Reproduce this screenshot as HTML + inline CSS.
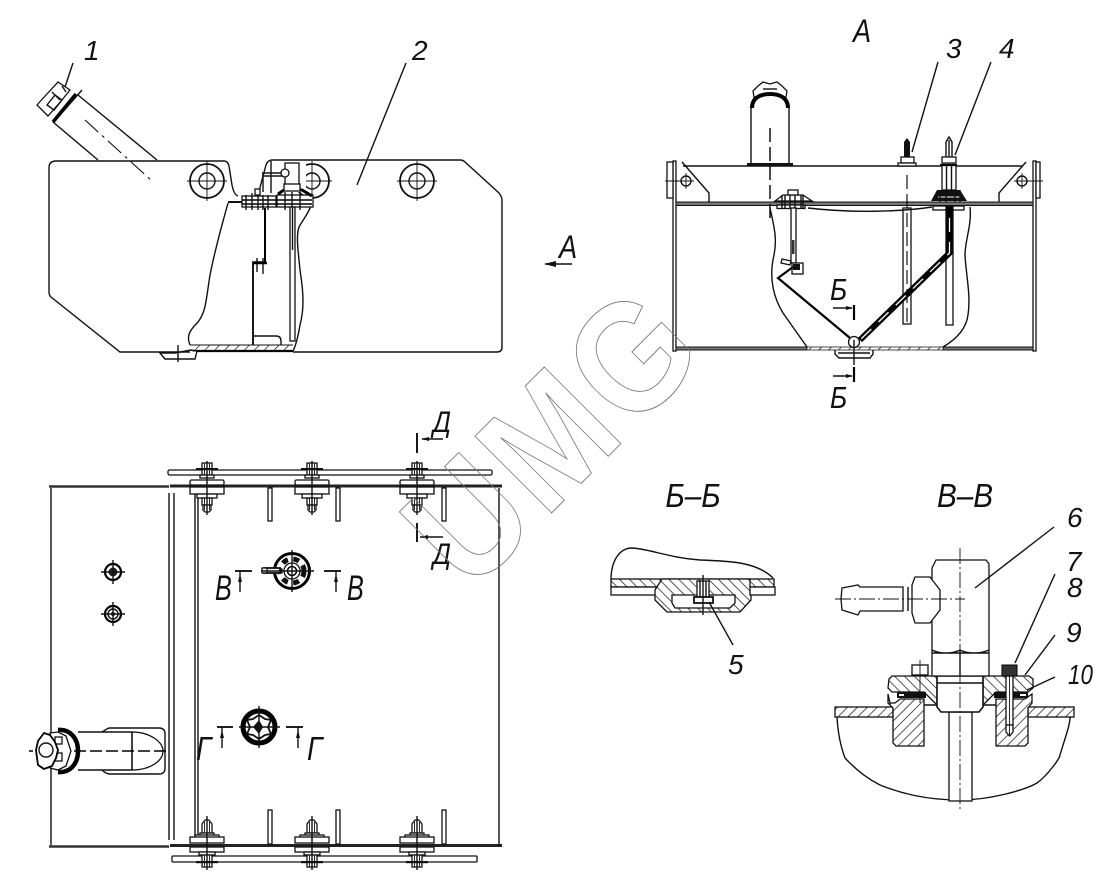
<!DOCTYPE html>
<html><head><meta charset="utf-8"><style>
html,body{margin:0;padding:0;background:#fff}
svg{display:block}
text{font-family:"Liberation Sans",sans-serif;font-style:italic;fill:#111;font-size:28px}
.l{fill:none;stroke:#111;stroke-width:1.4}
.t{fill:none;stroke:#111;stroke-width:.9}
.k{fill:none;stroke:#000;stroke-width:2.2}
.c{fill:none;stroke:#111;stroke-width:.9;stroke-dasharray:16 3 2 3}
.d{fill:none;stroke:#000;stroke-width:1.4;stroke-dasharray:14 5}
.b{fill:#111;stroke:none}
.w{fill:#fff;stroke:#111;stroke-width:1.3}
.h{fill:url(#hatch);stroke:#111;stroke-width:1.3}
.h2{fill:url(#hatch2);stroke:#111;stroke-width:1.3}
</style></head><body>
<svg width="1119" height="890" viewBox="0 0 1119 890" xmlns="http://www.w3.org/2000/svg">
<defs>
<pattern id="hatch" width="7" height="7" patternUnits="userSpaceOnUse" patternTransform="rotate(45)"><rect width="7" height="7" fill="#fff"/><line x1="0" y1="0" x2="0" y2="7" stroke="#111" stroke-width="1.4"/></pattern>
<pattern id="hatch2" width="7" height="7" patternUnits="userSpaceOnUse" patternTransform="rotate(-45)"><rect width="7" height="7" fill="#fff"/><line x1="0" y1="0" x2="0" y2="7" stroke="#111" stroke-width="1.4"/></pattern>
<g id="boltT">
<rect class="w" x="-5" y="-23" width="10" height="6"/>
<rect class="w" x="-5" y="-17" width="10" height="6"/>
<rect class="w" x="-7" y="-11" width="14" height="3"/>
<rect class="b" x="-11" y="-18" width="22" height="2.200"/>
<rect class="w" x="-17" y="-6" width="34" height="5" rx="1.500"/>
<rect class="w" x="-17" y="1" width="34" height="7"/>
<rect class="w" x="-10" y="8" width="20" height="4"/>
<rect class="w" x="-5" y="12" width="10" height="7"/>
<path class="w" d="M-4 19h8v5l-2 2h-4l-2-2z"/>
<path class="t" d="M-2.500 -23V-11M2.500 -23V-11M-2.500 12V24M2.500 12V24"/>
<line class="l" x1="0" y1="-25" x2="0" y2="29"/>
</g>
<g id="boltB">
<path class="w" d="M-5 -13v-9l3-4h4l3 4v9z"/>
<rect class="w" x="-7" y="-13" width="14" height="3"/>
<rect class="w" x="-12" y="-11" width="24" height="3"/>
<rect class="w" x="-17" y="-9" width="34" height="6"/>
<rect class="w" x="-17" y="1" width="34" height="5"/>
<rect class="w" x="-8" y="6" width="16" height="3"/>
<rect class="w" x="-5" y="9" width="10" height="12"/>
<rect class="b" x="-11" y="15" width="22" height="2.200"/>
<path class="t" d="M-2.500 -24V-13M2.500 -24V-13M-2.500 9V21M2.500 9V21"/>
<line class="l" x1="0" y1="-30" x2="0" y2="24"/>
</g>
<g id="tcirc">
<circle class="l" cx="0" cy="0" r="17" style="stroke-width:1.8"/>
<circle class="l" cx="0" cy="0" r="8"/>
<path class="t" d="M-20 0H20M0-20V20"/>
</g>
</defs>
<rect width="1119" height="890" fill="#fff"/>

<!-- ===== Side view ===== -->
<path class="l" d="M228 203C222 225 216 245 210 275C206 300 206 312 198 322C190 330 186 336 190 345M190 352H120L51 297Q49 295 49 292V168Q49 161 56 161H224Q228 161 229 166L232 185Q234 195 238 196"/>
<path class="l" d="M312 203C309 213 304 218 299 227C296 236 298 250 300 270C304 295 304 310 300 325C298 337 296 345 293 351M293 352H497Q502 352 502 347V200Q502 197 499 193L465 162Q463 160 460 160H272Q268 160 266 165L258 195"/>
<use href="#tcirc" x="207" y="181"/>
<use href="#tcirc" x="312" y="181"/>
<use href="#tcirc" x="417" y="181"/>
<rect x="296" y="164" width="10" height="28" fill="#fff"/>
<path class="l" d="M157 160 78 95M98 160 53 122"/>
<path class="k" d="M53 122 76 94" style="stroke-width:3.600"/>
<path class="l" d="M60 115 82 90"/>
<path class="w" d="M37 105 46 95 58 82 70 90 62 100 48 116Z"/>
<path class="l" d="M47 105 55 95 62 100 54 110ZM52 92 60 100M62 86 66 92"/>
<path class="d" d="M85 120 152 181" style="stroke-width:1;stroke-dasharray:18 5 3 5"/>
<line class="l" x1="73" y1="63" x2="65" y2="87"/>
<line class="l" x1="406" y1="63" x2="357" y2="185"/>
<text x="84" y="60">1</text><text x="412" y="60">2</text>
<!-- internals -->
<rect class="b" x="228" y="201" width="16" height="2"/>
<rect class="w" x="242" y="196" width="34" height="11"/>
<rect class="w" x="277" y="195" width="36" height="12"/>
<path class="k" d="M242 200H312M242 204H312" style="stroke-width:1.600"/>
<path d="M246 195V210M252 193V210M258 195V210M263 195V210M268 195V210M285 192V210M292 192V210M300 192V210" class="l"/>
<rect class="w" x="255" y="189" width="5" height="6"/>
<path class="k" d="M278 194 284 190H302L312 196" style="stroke-width:3"/>
<rect class="w" x="285" y="163" width="14" height="24"/>
<rect class="w" x="284" y="184" width="16" height="7"/>
<path class="l" d="M263 173V192M271 161V193M262 173H285M262 176H285"/>
<circle class="w" cx="285" cy="173" r="4"/>
<path class="k" d="M265 208V262" style="stroke-width:2"/>
<path class="k" d="M253 263V345" style="stroke-width:1.800"/>
<path class="l" d="M252 262H265M257 258V272M263 258V274"/>
<path class="k" d="M253 263H267" style="stroke-width:2.500"/>
<path class="l" d="M253 336H276Q281 336 281 341V345"/>
<rect class="w" x="290" y="207" width="5" height="134"/>
<line class="l" x1="292.500" y1="207" x2="292.500" y2="250"/>
<rect x="190" y="345" width="103" height="7" fill="url(#hatch)" stroke="none"/>
<path class="k" d="M196 351H293"/>
<path class="t" d="M190 345H293"/>
<path class="l" d="M160 353 165 359H195L197 351 191 350 175 353Z"/>
<line class="l" x1="178" y1="345" x2="178" y2="362"/>

<!-- ===== View A ===== -->
<text transform="translate(853 42) scale(.85 1)" style="font-size:32px">А</text>
<line class="l" x1="938" y1="62" x2="912" y2="152"/>
<line class="l" x1="991" y1="62" x2="955" y2="155"/>
<text x="946" y="58">3</text><text x="999" y="58">4</text>
<path class="l" d="M683 166H1022"/>
<rect class="w" x="673" y="161" width="3" height="190"/>
<rect class="w" x="1033" y="161" width="3" height="190"/>
<rect x="676" y="202" width="357" height="3.500" fill="#777" stroke="#111" stroke-width="1"/>
<rect x="676" y="347" width="131" height="3" fill="#777" stroke="#111" stroke-width="1"/>
<rect x="943" y="347" width="90" height="3" fill="#777" stroke="#111" stroke-width="1"/>
<path class="l" d="M682 162 709 193V202M1026 162 999 193V202"/>
<rect class="w" x="667" y="162" width="6" height="36"/>
<rect class="w" x="1036" y="162" width="4" height="36"/>
<circle class="l" cx="686" cy="181" r="5"/><circle class="l" cx="1022" cy="181" r="5"/>
<path class="t" d="M665 181H694M686 173V189M1014 181H1043M1022 173V189"/>
<path class="l" d="M751 165V108M789 165V108"/>
<path class="w" d="M754 97 753 91 758 86 763 82 770 84 777 82 782 86 787 91 786 97Z"/>
<path class="l" d="M763 89H777"/>
<path d="M752 108C752 98 760 94 770 94 780 94 788 98 788 108" fill="#fff" stroke="#000" stroke-width="4"/>
<rect class="b" x="747" y="163" width="46" height="3"/>
<line class="d" x1="770" y1="128" x2="770" y2="222"/>
<path class="b" d="M904 157V142L907 138 910 142V157Z"/>
<rect class="w" x="901" y="157" width="13" height="6"/>
<rect class="w" x="898" y="163" width="18" height="3"/>
<rect class="w" x="903" y="208" width="8" height="116"/>
<line class="d" x1="907" y1="175" x2="907" y2="322" style="stroke-width:1.100"/>
<path class="l" d="M946 157V142L949 137 952 142V157M949 140V157"/>
<rect class="w" x="942" y="157" width="14" height="6"/>
<rect class="w" x="942" y="165" width="14" height="25"/>
<path class="l" d="M946.500 165V190M951.500 165V190"/>
<path class="k" d="M940 165H957"/>
<path class="b" d="M937 190H960L967 201H931Z"/>
<path d="M938 197H960" stroke="#fff" stroke-width="1"/>
<path class="l" d="M940 190V202M946 190V202M955 190V202M960 190V202"/>
<rect class="w" x="933" y="206" width="31" height="4"/>
<path d="M770 208C775 230 777 240 774 255 768 280 775 300 783 313L807 347" class="l"/>
<path d="M970 207C972 225 965 240 965 255 966 275 971 295 968 315 966 330 955 340 943 347" class="l"/>
<path class="l" d="M808 208C850 213 900 212 932 207"/>
<path class="w" d="M775 201 783 195H803L812 201Z"/>
<rect class="w" x="777" y="205" width="28" height="3.500"/>
<rect class="w" x="788" y="190" width="10" height="5"/>
<path class="l" d="M782 195V209M785 195V209M790 195V209M795 195V209M801 195V209M803 195V209"/>
<rect class="w" x="791" y="208" width="5" height="55"/>
<rect x="792" y="240" width="2.500" height="14" fill="#333"/>
<path class="w" d="M782 259 791 261 790 265 781 263Z"/>
<rect class="w" x="792" y="263" width="11" height="11"/>
<rect class="b" x="793" y="264" width="7" height="6"/>
<path class="k" d="M793 267 778 278 850 338"/>
<rect class="w" x="946" y="207" width="7" height="118"/>
<path d="M949.500 207V253L860 340" fill="none" stroke="#000" stroke-width="6"/>
<path d="M949.500 218V253L860 340" fill="none" stroke="#fff" stroke-width="1.300" stroke-dasharray="14 10"/>
<path fill="url(#hatch)" stroke="#111" stroke-width=".8" d="M807 347H943V350H807Z"/>
<circle class="w" cx="854" cy="342" r="5.500"/>
<path class="l" d="M835 350V354L839 358H870L873 354V350M838 353H870"/>
<path class="k" d="M854 305V320M854 367V382"/>
<path class="l" d="M833 308H852M833 376H852"/>
<path class="b" d="M853 308 846 306V310ZM853 376 846 374V378Z"/>
<line class="l" x1="854" y1="340" x2="854" y2="365"/>
<text transform="translate(830 300) scale(.85 1)" style="font-size:31px">Б</text>
<text transform="translate(830 408) scale(.85 1)" style="font-size:31px">Б</text>

<!-- View A arrow -->
<path class="l" d="M545 264H572"/><path class="b" d="M544 264 556 261V267Z"/>
<text transform="translate(559 258) scale(.85 1)" style="font-size:32px">А</text>

<!-- ===== Plan view ===== -->
<rect class="w" x="168" y="470" width="324" height="5" rx="1.500"/>
<rect class="w" x="172" y="856" width="305" height="6" rx="1"/>
<path class="k" d="M49 486.500H169M49 846.500H169" style="stroke:#333;stroke-width:2.500"/>
<path class="k" d="M170 486H502M170 845.500H502" style="stroke:#222;stroke-width:3"/>
<path class="l" d="M51 488V845M499 488V845M169 493V840M174 493V840M195 492V840M198 492V840"/>
<rect class="w" x="268" y="488" width="4" height="33"/><rect class="w" x="336" y="488" width="4" height="33"/><rect class="w" x="442" y="488" width="4" height="33"/>
<rect class="w" x="268" y="810" width="4" height="34"/><rect class="w" x="336" y="810" width="4" height="34"/><rect class="w" x="442" y="810" width="4" height="34"/>
<use href="#boltT" x="207" y="486"/><use href="#boltT" x="312" y="486"/><use href="#boltT" x="417" y="486"/>
<use href="#boltB" x="207" y="846"/><use href="#boltB" x="312" y="846"/><use href="#boltB" x="417" y="846"/>
<!-- small plugs -->
<circle class="k" cx="113" cy="572" r="8"/><circle cx="113" cy="572" r="4.500" fill="#222"/>
<circle class="k" cx="113" cy="614" r="8"/><circle class="l" cx="113" cy="614" r="5"/><circle cx="113" cy="614" r="2" fill="#111"/>
<path class="l" d="M101 572H125M113 560V584M101 614H125M113 602V626"/>
<!-- filler -->
<path class="l" d="M102 732 107 729Q108 728 110 728H159Q165 728 165 734V768Q165 774 159 774H110Q106 774 102 770"/>
<path class="w" d="M132 732C150 732 163 742 163 751 163 761 150 770 132 770Z"/>
<path class="l" d="M78 732H132M78 770H132M132 732V770"/>
<path fill="none" stroke="#000" stroke-width="4.500" d="M58 730C70 729 78 738 78 751 78 764 70 773 58 772"/>
<path class="w" d="M50 733 58 732 66 736 71 751 66 766 58 770 50 768Z"/>
<rect class="w" x="55" y="737" width="7" height="7"/><rect class="w" x="55" y="753" width="7" height="8"/>
<path fill="#fff" stroke="#000" stroke-width="1.800" d="M44 733 50 735 55 742 58 750 56 758 52 766 44 769 38 765 37 758 36 750 38 741Z"/>
<circle class="l" cx="46" cy="750" r="7"/>
<path class="d" d="M29 751H33M74 751H168" style="stroke-width:1.400;stroke-dasharray:12 4"/>
<!-- fitting В -->
<circle cx="292" cy="571" r="17.500" fill="#fff" stroke="#000" stroke-width="3"/>
<circle cx="292" cy="571" r="12" fill="none" stroke="#111" stroke-width="5" stroke-dasharray="6 5.500"/>
<circle class="w" cx="292" cy="571" r="8"/>
<circle class="k" cx="292" cy="571" r="4.500" style="stroke-width:1.500"/>
<rect class="w" x="264" y="568" width="16" height="5" style="stroke-width:1.800"/>
<rect class="w" x="262" y="568" width="5" height="5"/>
<path class="l" d="M292 550V592M261 571H314"/>
<path class="k" d="M235 571H252M324 571H341" style="stroke-width:1.800"/>
<path class="l" d="M240 571V592M336 571V592"/><path class="b" d="M240 574 238 582H242ZM336 574 334 582H338Z"/>
<text transform="translate(215 600) scale(.72 1)" style="font-size:35px">В</text>
<text transform="translate(347 600) scale(.72 1)" style="font-size:35px">В</text>
<!-- fitting Г -->
<circle cx="259" cy="727" r="16" fill="#fff" stroke="#000" stroke-width="5"/>
<path class="w" d="M259 715 265 719 271 720 268 727 271 734 265 735 259 739 253 735 247 734 250 727 247 720 253 719Z" style="stroke-width:1.800"/>
<path d="M259 720 263 727 259 734 253 727Z" fill="#111"/>
<path class="l" d="M259 706V748M239 727H280"/>
<path class="k" d="M217 727H233M286 727H303" style="stroke-width:1.800"/>
<path class="l" d="M222 727V748M298 727V748"/><path class="b" d="M222 730 220 738H224ZM298 730 296 738H300Z"/>
<text transform="translate(196 760) scale(.85 1)" style="font-size:33px">Г</text>
<text transform="translate(307 760) scale(.85 1)" style="font-size:33px">Г</text>
<!-- section Д -->
<path class="k" d="M417 433V453M417 523V542" style="stroke-width:1.800"/>
<path class="l" d="M422 439H443M420 537H443"/><path class="b" d="M421 439 429 437V441ZM420 537 428 535V539Z"/>
<text transform="translate(433 432) scale(.85 1)" style="font-size:30px">Д</text>
<text transform="translate(433 564) scale(.85 1)" style="font-size:30px">Д</text>

<!-- ===== Section Б-Б ===== -->
<text transform="translate(693 507) scale(.9 1)" text-anchor="middle" style="font-size:33px">Б–Б</text>
<path class="l" d="M611 580C611 560 620 548 632 548 650 549 670 558 700 560 730 561 757 562 773 578"/>
<rect class="h2" x="611" y="579" width="163" height="8"/>
<rect class="w" x="611" y="587" width="164" height="8"/>
<path class="h2" d="M662 579H750V595H751V600L740 612H667L655 600V590Z"/>
<path fill="#fff" stroke="#111" stroke-width="1.300" d="M672 603V595H735V603L730 608H675Z"/>
<rect class="w" x="697" y="581" width="12" height="16"/>
<rect class="w" x="694" y="597" width="19" height="6" style="stroke-width:1.800"/>
<path class="l" d="M700 581V597M706 581V597M703 575V615"/>
<line class="l" x1="709" y1="602" x2="733" y2="645"/>
<text x="728" y="674">5</text>

<!-- ===== Section В-В ===== -->
<text transform="translate(965 507) scale(.9 1)" text-anchor="middle" style="font-size:33px">В–В</text>
<path class="l" d="M837 717C838 735 842 750 845 758 858 772 870 780 880 785 900 793 925 800 960 800 990 800 1025 790 1037 783 1048 775 1060 758 1060 755 1066 735 1070 725 1070 717"/>
<rect class="h" x="835" y="707" width="58" height="10"/>
<rect class="h" x="1028" y="707" width="46" height="10"/>
<path class="h" d="M888 694V703L893 708V743L896 746H924V699H900L895 703H890Z"/>
<path class="h" d="M996 746V699H1025L1032 694V703L1028 708V743L1025 746Z"/>
<path class="l" d="M924 705H937M983 705H996"/>
<rect class="w" x="949" y="712" width="23" height="89"/>
<path class="h2" d="M889 679 892 676H937V705L924 692H892L888 688Z"/>
<path class="h2" d="M983 676H1029L1033 679V688L1028 692H996L983 705Z"/>
<rect class="b" x="897" y="692" width="29" height="6"/>
<rect class="b" x="994" y="692" width="34" height="6"/>
<path d="M899 695H904M1020 695H1026" stroke="#fff" stroke-width="2"/>
<path class="w" d="M937 676H983V707L979 712H941L937 707Z" style="stroke-width:1.600"/>
<path class="l" d="M937 683H983"/>
<path class="w" d="M932 568 936 560H986L989 564V676H932Z"/>
<path class="l" d="M932 650C940 654 952 654 960 650 968 654 980 654 989 650M932 653H989M960 650V676"/>
<path class="w" d="M915 577H930L940 590V610L930 623H915L912 613V585Z"/>
<path class="w" d="M842 588 858 585 860 587H903V611H860L858 615 842 610 841 599Z"/>
<path class="l" d="M908 587V611"/>
<path class="c" d="M835 599H965"/>
<path class="c" d="M960 548V810"/>
<rect class="w" x="912" y="665" width="16" height="10"/>
<line class="t" x1="920" y1="660" x2="920" y2="703"/>
<rect class="w" x="1006" y="676" width="7" height="49"/>
<path class="w" d="M1006 725H1013V732L1009.500 736 1006 732Z"/>
<line class="t" x1="1009.500" y1="676" x2="1009.500" y2="736"/>
<rect x="1002" y="665" width="15" height="11" fill="#333" stroke="#000"/>
<line class="l" x1="1054" y1="527" x2="975" y2="588"/>
<line class="l" x1="1055" y1="574" x2="1015" y2="663"/>
<line class="l" x1="1055" y1="635" x2="1025" y2="675"/>
<line class="l" x1="1055" y1="677" x2="1027" y2="690"/>
<text x="1067" y="527">6</text><text x="1066" y="571">7</text><text x="1067" y="597">8</text><text x="1066" y="642">9</text>
<text transform="translate(1068 684) scale(.8 1)">10</text>

<!-- Watermark -->
<text transform="translate(470 594.500) rotate(-45) scale(1 1.125)" style="font-size:140px;font-weight:bold;font-style:normal;letter-spacing:5px;fill:none;stroke:#777;stroke-width:.8">UMG</text>
</svg>
</body></html>
